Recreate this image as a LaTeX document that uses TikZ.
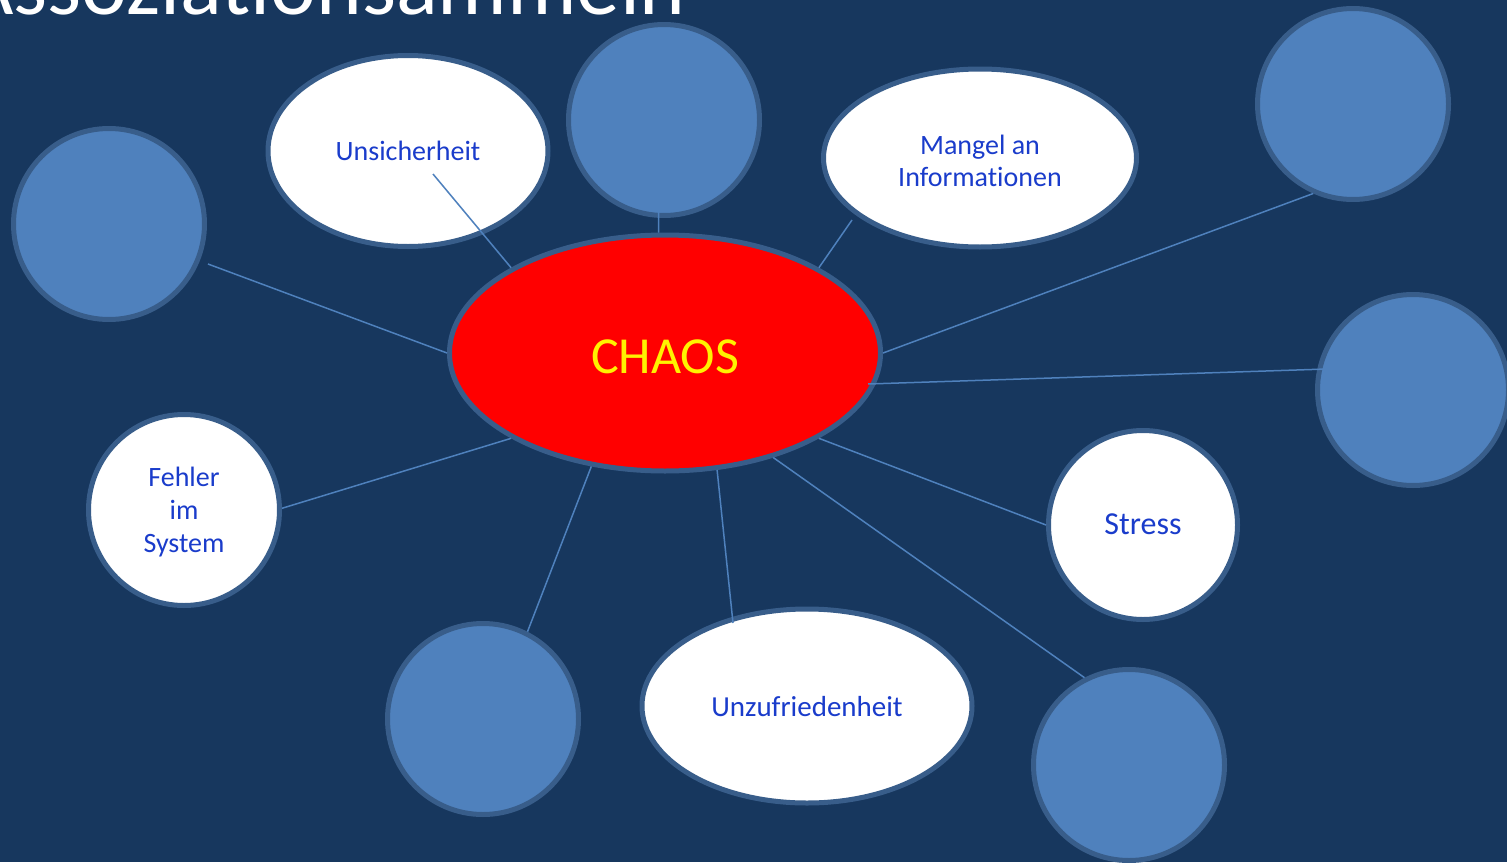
\documentclass[tikz,border=0pt]{standalone}
\usepackage{fontspec}
\setmainfont{Carlito}[Ligatures=NoCommon]
\usetikzlibrary{shapes.geometric}
\definecolor{bg}{HTML}{17375E}
\definecolor{acc}{HTML}{4F81BD}
\definecolor{rim}{HTML}{385D8A}
\definecolor{txt}{HTML}{1A3CCB}
\newcommand{\lowtext}[2]{\raisebox{-#1}[\height][\depth]{\begin{tabular}{@{}c@{}}#2\end{tabular}}}
\begin{document}
\begin{tikzpicture}[x=1pt,y=-1pt,
  blob/.style={circle,fill=acc,draw=rim,line width=5pt,minimum size=191pt,inner sep=0pt},
  idea/.style={ellipse,fill=white,draw=rim,line width=5pt,inner sep=0pt,text=txt,font=\fontsize{28}{34}\selectfont},
  wcircle/.style={circle,fill=white,draw=rim,line width=5pt,inner sep=0pt,text=txt,font=\fontsize{28}{34}\selectfont},
  link/.style={draw=acc,line width=1.5pt}]
\useasboundingbox (0,0) rectangle (1507,862);
\fill[bg] (0,0) rectangle (1507,862);
\clip (0,0) rectangle (1507,862);
\node[anchor=base east,text=white,font=\fontsize{87}{100}\selectfont,inner sep=0pt] (title) at (686,14) {Assoziationsammeln};

% blue circles
\node[blob] (tc) at (664,120) {};
\node[blob] (trc) at (1353,104) {};
\node[blob] (lc) at (109,224) {};
\node[blob] (rc) at (1413,390) {};
\node[blob] (blc) at (483,719) {};
\node[blob] (brc) at (1129,765) {};

% white ideas
\node[idea,minimum width=280pt,minimum height=191pt] (unsi) at (408,151) {\lowtext{2.2pt}{Unsicherheit}};
\node[idea,minimum width=313pt,minimum height=178pt,font=\fontsize{28}{32}\selectfont] (mang) at (980,158) {\lowtext{6pt}{Mangel an\\Informationen}};
\node[idea,minimum width=330pt,minimum height=194pt,font=\fontsize{29}{34}\selectfont] (unzu) at (807,706) {\lowtext{3.9pt}{Unzufriedenheit}};
\node[wcircle,minimum size=191pt,font=\fontsize{28}{33}\selectfont] (fehl) at (184,510) {\lowtext{3pt}{Fehler\\im\\System}};
\node[wcircle,minimum size=189pt,font=\fontsize{32}{38}\selectfont] (stre) at (1143,525) {\lowtext{1.7pt}{Stress}};

% centre
\node[ellipse,fill=red,draw=rim,line width=5pt,minimum width=431pt,minimum height=236pt,inner sep=0pt,text=yellow,font=\fontsize{52}{60}\selectfont] (chaos) at (665,353) {\lowtext{8pt}{CHAOS}};

% free ends
\coordinate (eunsi) at (433,174);
\coordinate (etc) at (658,160);
\coordinate (emang) at (852,220);
\coordinate (erc) at (1327,369);
\coordinate (echaosr) at (868,384);
\coordinate (eunzu) at (733,623);
\coordinate (elc) at (208,264);

\draw[link] (eunsi) -- (chaos.151);
\draw[link] (etc) -- (chaos.93);
\draw[link] (emang) -- (chaos.29);
\draw[link] (trc.246) -- (chaos.0);
\draw[link] (erc) -- (echaosr);
\draw[link] (stre.west) -- (chaos.-29);
\draw[link] (brc.117) -- (chaos.-44);
\draw[link] (eunzu) -- (chaos.-66.5);
\draw[link] (blc.63) -- (chaos.237.7);
\draw[link] (fehl.1) -- (chaos.209);
\draw[link] (elc) -- (chaos.180);
\end{tikzpicture}
\end{document}
